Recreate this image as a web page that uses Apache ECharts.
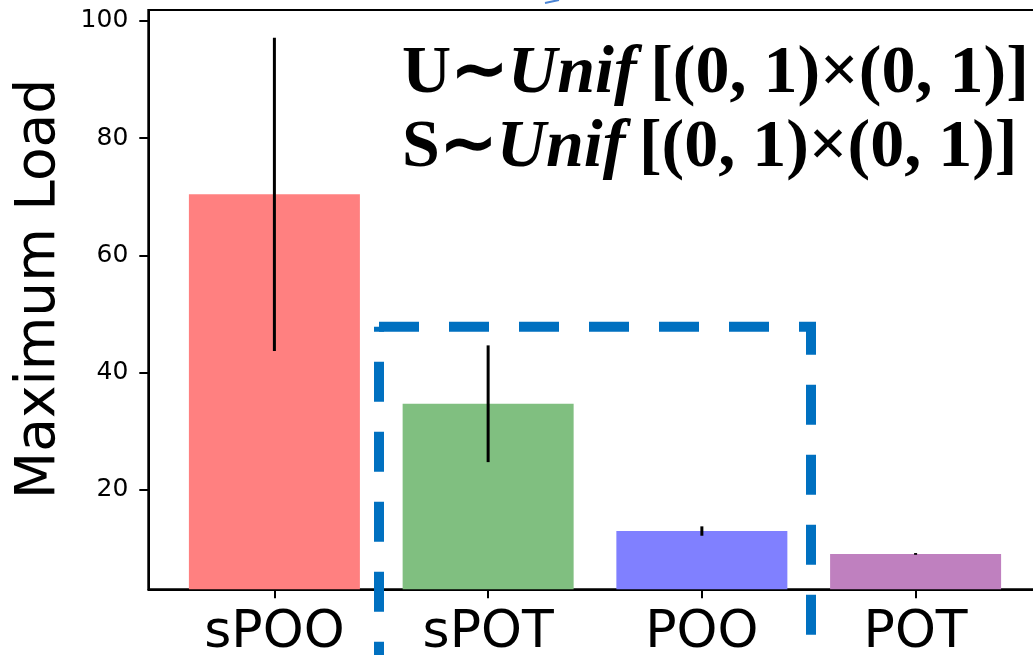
<!DOCTYPE html>
<html>
<head>
<meta charset="utf-8">
<script src="https://cdn.jsdelivr.net/npm/echarts@6/dist/echarts.min.js"></script>
<style>
html,body{margin:0;padding:0;background:#fff;}
#main{width:1033px;height:655px;}
</style>
</head>
<body>
<div id="main"></div>
<script>
const categories = ['sPOO', 'sPOT', 'POO', 'POT'];
const means = [70.4, 34.7, 13.0, 9.1];
const errors = [26.7, 9.95, 0.8, 0.15];
const yTicks = [20, 40, 60, 80, 100];
const barColors = ['#FF8080', '#80BF80', '#8080FF', '#BF80BF'];

const chart = echarts.init(document.getElementById('main'), null, {renderer: 'canvas'});

const xIdx = categories.map((c, i) => i);

const option = {
  animation: false,
  backgroundColor: '#fff',
  grid: {
    left: 148.3, top: 10, width: 893.4, height: 579.3,
    outerBoundsMode: 'none', containLabel: false,
    show: true, borderColor: '#000', borderWidth: 2, backgroundColor: 'transparent'
  },
  xAxis: {
    type: 'value', min: -0.59, max: 3.59,
    axisLine: {show: true, onZero: false, lineStyle: {color: '#000', width: 2}},
    axisTick: {show: true, customValues: xIdx, length: 9, lineStyle: {color: '#000', width: 2}},
    axisLabel: {show: true, customValues: xIdx, formatter: v => categories[Math.round(v)],
      fontSize: 52, fontFamily: 'DejaVu Sans', color: '#000', margin: 18},
    splitLine: {show: false}
  },
  yAxis: {
    type: 'value', min: 3.07, max: 101.82,
    axisLine: {show: true, onZero: false, lineStyle: {color: '#000', width: 2}},
    axisTick: {show: true, customValues: yTicks, length: 9, lineStyle: {color: '#000', width: 2}},
    axisLabel: {show: true, customValues: yTicks, fontSize: 25, fontFamily: 'DejaVu Sans', color: '#000', margin: 20},
    splitLine: {show: false}
  },
  series: [
    {
      type: 'bar',
      barWidth: 171,
      data: means.map((m, i) => ({value: [i, m], itemStyle: {color: barColors[i]}})),
      z: 2
    },
    {
      type: 'custom',
      z: 3,
      data: means.map((m, i) => [i, m, errors[i]]),
      renderItem: function (params, api) {
        const x = api.value(0), m = api.value(1), e = api.value(2);
        const p1 = api.coord([x, m - e]);
        const p2 = api.coord([x, m + e]);
        return {
          type: 'line',
          shape: {x1: p1[0], y1: p1[1], x2: p2[0], y2: p2[1]},
          style: {stroke: '#000', lineWidth: 3}
        };
      }
    }
  ],
  graphic: [
    {
      type: 'text', x: 40, y: 289, rotation: Math.PI / 2,
      style: {text: 'Maximum Load', fontSize: 55, fontFamily: 'DejaVu Sans', fill: '#000',
        textAlign: 'center', textVerticalAlign: 'middle'}
    },
    {
      type: 'text', x: 402, y: 37, z: 10,
      style: {
        text: '{b|U∼}{bi|Unif}{b|\u2009[(0, 1)×(0, 1)]}\n{b|S∼}{bi|Unif}{b|\u2009[(0, 1)×(0, 1)]}',
        textAlign: 'left', textVerticalAlign: 'top', lineHeight: 74.5,
        rich: {
          b: {fontFamily: 'Liberation Serif', fontWeight: 'bold', fontSize: 68, fill: '#000', lineHeight: 74.5},
          bi: {fontFamily: 'Liberation Serif', fontWeight: 'bold', fontStyle: 'italic', fontSize: 68, fill: '#000', lineHeight: 74.5}
        }
      }
    },
    {
      type: 'polyline', z: 20,
      shape: {points: [[379, 326.7], [811, 326.7], [811, 700]]},
      style: {stroke: '#0070C0', lineWidth: 10, lineDash: [40, 30], lineCap: 'butt', lineJoin: 'miter', fill: null}
    },
    {
      type: 'polyline', z: 20,
      shape: {points: [[379, 326.7], [379, 700]]},
      style: {stroke: '#0070C0', lineWidth: 10, lineDash: [40, 30], lineDashOffset: 35, lineCap: 'butt', fill: null}
    },
    {
      type: 'polyline', z: 20,
      shape: {points: [[545, 3], [552, 1.5], [559, 0]]},
      style: {stroke: '#4a84d4', lineWidth: 2, fill: null}
    }
  ]
};
chart.setOption(option);
</script>
</body>
</html>
